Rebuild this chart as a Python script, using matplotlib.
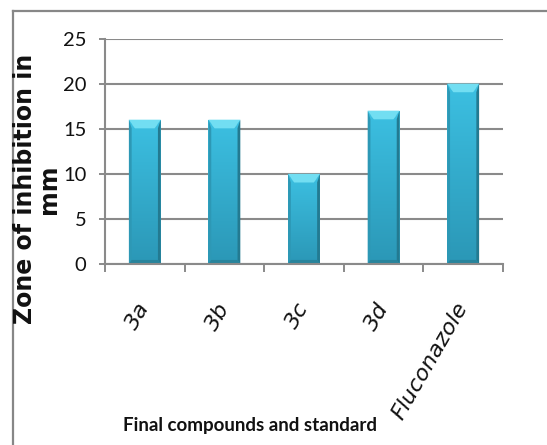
import numpy as np
import matplotlib
matplotlib.use("Agg")
import matplotlib.pyplot as plt
from matplotlib.patches import Polygon
from matplotlib.lines import Line2D

# Zone of inhibition (mm) for the synthesised compounds and the standard
compounds = ["3a", "3b", "3c", "3d", "Fluconazole"]
inhibition_mm = [16, 16, 10, 17, 20]
y_ticks = [0, 5, 10, 15, 20, 25]

x_title = "Final compounds and standard"
y_title = "Zone of inhibition in\nmm"

GRID = "#8a8a8a"
NARROW = ["Lato", "DejaVu Sans"]

fig = plt.figure(figsize=(5.47, 4.45), dpi=100)
W, H = 547.0, 445.0
ax = fig.add_axes([105 / W, 1 - 264 / H, 398 / W, 225.5 / H])

x = np.arange(len(compounds))
bar_w = 0.40
bars = ax.bar(x, inhibition_mm, width=bar_w, color="#35afd1", zorder=2, linewidth=0)

# bevelled look: vertical gradient face plus light top facet and darker side/bottom facets
ny = 256
t = np.linspace(0, 1, ny)[:, None, None]
c_bot = np.array([0x2b, 0x97, 0xb6]) / 255
c_top = np.array([0x3c, 0xc0, 0xe2]) / 255
grad = c_bot + (c_top - c_bot) * t
grad = np.repeat(grad, 2, axis=1)

bx = 0.035            # side facet width (data units)
by_top = 0.95         # top facet height (data units)
by_bot = 0.45         # bottom facet height (data units)
for rect in bars:
    x0 = rect.get_x()
    x1 = x0 + rect.get_width()
    v = rect.get_height()
    im = ax.imshow(grad, extent=(x0, x1, 0, v), origin="lower", aspect="auto",
                   interpolation="bilinear", zorder=2.2)
    im.set_clip_path(rect)
    # left and right facets
    ax.add_patch(Polygon([(x0, 0), (x0 + bx, by_bot), (x0 + bx, v - by_top), (x0, v)],
                         closed=True, fc="#2d98b5", ec="none", zorder=2.4))
    ax.add_patch(Polygon([(x1, 0), (x1 - bx, by_bot), (x1 - bx, v - by_top), (x1, v)],
                         closed=True, fc="#237a91", ec="none", zorder=2.4))
    # bottom facet
    ax.add_patch(Polygon([(x0, 0), (x1, 0), (x1 - bx, by_bot), (x0 + bx, by_bot)],
                         closed=True, fc="#28849c", ec="none", zorder=2.4))
    # top facet
    ax.add_patch(Polygon([(x0, v), (x1, v), (x1 - 2.2 * bx, v - by_top), (x0 + 2.2 * bx, v - by_top)],
                         closed=True, fc="#72def2", ec="none", zorder=2.5))
    ax.add_patch(Polygon([(x0 + 2.2 * bx, v - by_top), (x1 - 2.2 * bx, v - by_top),
                          (x1 - bx, v - by_top * 0.55), (x0 + bx, v - by_top * 0.55)],
                         closed=True, fc="#58d0e9", ec="none", zorder=2.45))

ax.set_xlim(-0.5, len(compounds) - 0.5)
ax.set_ylim(0, 25)

# y axis
ax.set_yticks(y_ticks)
ax.set_yticklabels([str(v) for v in y_ticks], family=NARROW, fontsize=14.5, color="#111111")
ax.yaxis.grid(True, color=GRID, linewidth=1.5, zorder=1)
ax.set_axisbelow(True)
ax.tick_params(axis="y", direction="out", length=4.5, width=1.4, color=GRID, pad=9)

# x axis: labels at bar centres, tick marks at category boundaries
ax.set_xticks(x)
ax.set_xticklabels(compounds, rotation=60, ha="right", va="center",
                   rotation_mode="anchor", family="DejaVu Sans", style="italic",
                   fontsize=16, color="#111111")
ax.set_xticks(np.arange(len(compounds) + 1) - 0.5, minor=True)
ax.tick_params(axis="x", which="major", length=0, pad=29)
ax.tick_params(axis="x", which="minor", direction="out", length=5.8, width=1.4, color=GRID)

for side in ("top", "right"):
    ax.spines[side].set_visible(False)
for side in ("left", "bottom"):
    ax.spines[side].set_color(GRID)
    ax.spines[side].set_linewidth(1.5)

# axis titles
fig.text(37 / W, 1 - 189 / H, y_title, rotation=90, ha="center", va="center",
         multialignment="center", family="DejaVu Sans", fontweight="bold",
         fontsize=17, color="#111111", linespacing=1.0)
fig.text(250 / W, 1 - 426 / H, x_title, ha="center", va="center",
         family=NARROW, fontweight="bold", fontsize=13.5, color="#111111")

# chart area border (runs off the right and bottom edges)
fig.add_artist(Line2D([13 / W, 1.02], [1 - 10.5 / H, 1 - 10.5 / H],
                      transform=fig.transFigure, color="#878787", linewidth=1.6))
fig.add_artist(Line2D([13 / W, 13 / W], [-0.02, 1 - 10.5 / H],
                      transform=fig.transFigure, color="#878787", linewidth=1.6))

fig.savefig("out.png", dpi=100, facecolor="white")
